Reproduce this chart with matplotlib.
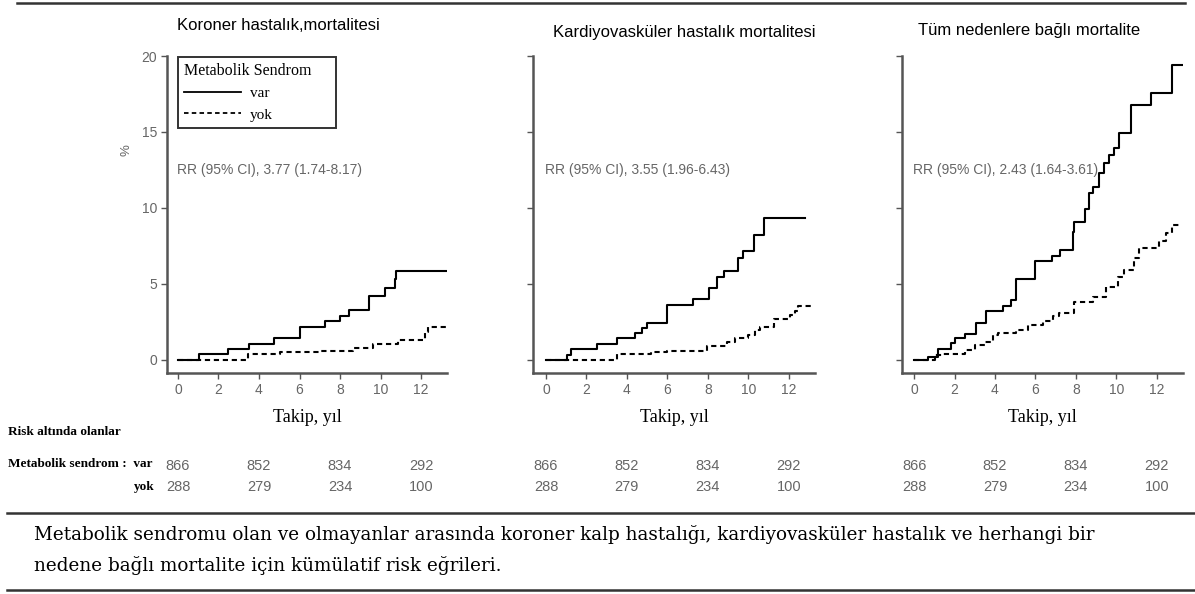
import matplotlib
matplotlib.use('agg')
import matplotlib.pyplot as plt
from matplotlib import transforms
from matplotlib.lines import Line2D
import numpy as np

# ---- data ----
panel_titles = [
    "Koroner hastalık,mortalitesi",
    "Kardiyovasküler hastalık mortalitesi",
    "Tüm nedenlere bağlı mortalite",
]
rr_texts = [
    "RR (95% CI), 3.77 (1.74-8.17)",
    "RR (95% CI), 3.55 (1.96-6.43)",
    "RR (95% CI), 2.43 (1.64-3.61)",
]

chd_var_t = [0, 1.04, 2.47, 3.49, 4.74, 6.01, 7.25, 8.02, 8.43, 9.44, 10.21, 10.70, 10.76, 13.26]
chd_var_y = [0, 0.37, 0.70, 1.05, 1.43, 2.19, 2.54, 2.92, 3.29, 4.21, 4.71, 5.30, 5.86, 5.86]
chd_yok_t = [0, 3.46, 5.02, 7.08, 8.65, 9.64, 10.87, 12.19, 12.35, 13.26]
chd_yok_y = [0, 0.39, 0.53, 0.61, 0.77, 1.03, 1.32, 1.86, 2.19, 2.19]

cvd_var_t = [0, 1.02, 1.22, 2.51, 3.53, 4.41, 4.74, 4.98, 5.97, 7.25, 8.04, 8.45, 8.81,
             9.47, 9.74, 10.26, 10.79, 12.79]
cvd_var_y = [0, 0.33, 0.70, 1.05, 1.43, 1.75, 2.08, 2.46, 3.62, 4.01, 4.76, 5.48, 5.88,
             6.71, 7.17, 8.22, 9.32, 9.32]
cvd_yok_t = [0, 3.5, 5.2, 5.97, 7.96, 8.94, 9.36, 10.0, 10.35, 10.6, 11.25, 12.08, 12.33,
             12.46, 13.2]
cvd_yok_y = [0, 0.39, 0.55, 0.61, 0.94, 1.20, 1.43, 1.64, 1.97, 2.15, 2.68, 2.96, 3.2,
             3.55, 3.55]

all_var_t = [0, 0.7, 1.18, 1.84, 2.04, 2.5, 3.04, 3.54, 4.39, 4.8, 5.05, 5.99, 6.81, 7.24,
             7.85, 7.9, 8.45, 8.67, 8.83, 9.13, 9.41, 9.65, 9.9, 10.15, 10.72, 11.71,
             12.78, 13.27]
all_var_y = [0, 0.22, 0.73, 1.10, 1.47, 1.71, 2.46, 3.19, 3.56, 3.96, 5.34, 6.48, 6.86, 7.21,
             8.4, 9.1, 9.9, 10.96, 11.4, 12.28, 12.93, 13.49, 13.93, 14.91, 16.78, 17.59,
             19.41, 19.41]
all_yok_t = [0, 1.02, 1.43, 2.5, 2.99, 3.49, 3.9, 4.14, 5.05, 5.62, 6.36, 6.86, 7.19, 7.93,
             8.83, 9.49, 10.07, 10.39, 10.89, 11.13, 12.12, 12.45, 12.78, 13.27]
all_yok_y = [0, 0.33, 0.40, 0.66, 0.99, 1.21, 1.65, 1.76, 1.98, 2.31, 2.53, 2.86, 3.08, 3.78,
             4.13, 4.79, 5.49, 5.93, 6.70, 7.36, 7.80, 8.35, 8.90, 8.90]

risk_times = [0, 4, 8, 12]
risk_var = [866, 852, 834, 292]
risk_yok = [288, 279, 234, 100]

caption = ("Metabolik sendromu olan ve olmayanlar arasında koroner kalp hastalığı, "
           "kardiyovasküler hastalık ve herhangi bir\n"
           "nedene bağlı mortalite için kümülatif risk eğrileri.")

W, H = 1195, 594
SANS = "Liberation Sans"
SERIF = "Liberation Serif"
GRAY = "#666666"
SPINE = "#555555"


def fx(px):
    return px / W


def fy(py):
    return 1 - py / H


fig = plt.figure(figsize=(W / 100, H / 100), dpi=100)

# panel boxes in pixels: left, right ; xlim
panels = [
    (167, 447, (-0.54, 13.28)),
    (533, 815, (-0.64, 13.30)),
    (902, 1183, (-0.60, 13.30)),
]
title_pos = [(177, 25), (553, 32), (918, 30)]
curves = [
    (chd_var_t, chd_var_y, chd_yok_t, chd_yok_y),
    (cvd_var_t, cvd_var_y, cvd_yok_t, cvd_yok_y),
    (all_var_t, all_var_y, all_yok_t, all_yok_y),
]
top_px, bottom_px = 56, 373

for i, (left, right, xl) in enumerate(panels):
    ax = fig.add_axes([fx(left), fy(bottom_px), (right - left) / W,
                       (bottom_px - top_px) / H])
    vt, vy, nt, ny = curves[i]
    ax.plot(vt, vy, drawstyle='steps-post', color='black', lw=1.5)
    ax.plot(nt, ny, drawstyle='steps-post', color='black', lw=1.5,
            dashes=(2.5, 1.8))
    ax.set_xlim(*xl)
    ax.set_ylim(-0.86, 20)
    for s in ['top', 'right']:
        ax.spines[s].set_visible(False)
    for s in ['left', 'bottom']:
        ax.spines[s].set_color(SPINE)
        ax.spines[s].set_linewidth(1.8)
    ax.set_xticks(np.arange(0, 13, 2))
    ax.set_yticks(np.arange(0, 21, 5))
    ax.tick_params(length=4, width=1, color=SPINE, labelcolor=GRAY,
                   labelsize=10, pad=3)
    for lab in ax.get_xticklabels() + ax.get_yticklabels():
        lab.set_fontfamily(SANS)
    if i > 0:
        ax.set_yticklabels([])
    ax.text(-0.05, 12.5, rr_texts[i], color=GRAY, fontsize=10,
            family=SANS, va='center', ha='left')
    fig.text(fx(title_pos[i][0]), fy(title_pos[i][1]), panel_titles[i],
             fontsize=12, family=SANS, va='center', ha='left')
    fig.text(fx((left + right) / 2), fy(418), "Takip, yıl", fontsize=13,
             family=SERIF, va='center', ha='center')

    trans = transforms.blended_transform_factory(ax.transData, fig.transFigure)
    for t, a, b in zip(risk_times, risk_var, risk_yok):
        ax.text(t, fy(466), str(a), transform=trans, ha='center', va='center',
                fontsize=10.5, color=GRAY, family=SANS, clip_on=False)
        ax.text(t, fy(487), str(b), transform=trans, ha='center', va='center',
                fontsize=10.5, color=GRAY, family=SANS, clip_on=False)

    if i == 0:
        ax.text(-2.55, 13.8, "%", rotation=90, color=GRAY, fontsize=9.5,
                family=SANS, ha='center', va='center')
        handles = [Line2D([], [], color='black', lw=1.3),
                   Line2D([], [], color='black', lw=1.3, dashes=(2.5, 1.8))]
        leg = ax.legend(handles, ["var", "yok"], title="Metabolik Sendrom",
                        loc='upper left', bbox_to_anchor=(0.039, 0.0, 0.564, 0.997),
                        mode='expand', borderaxespad=0, fancybox=False,
                        handlelength=3.7, handletextpad=0.6, labelspacing=0.5,
                        borderpad=0.4, prop={'family': SERIF, 'size': 11})
        leg.get_title().set_fontfamily(SERIF)
        leg.get_title().set_fontsize(11.5)
        leg._legend_box.align = "left"
        leg.get_frame().set_edgecolor('black')
        leg.get_frame().set_linewidth(1.4)

# risk table labels
fig.text(fx(8), fy(432), "Risk altında olanlar", fontsize=9.5, family=SERIF,
         fontweight='bold', va='center', ha='left')
fig.text(fx(8), fy(464), "Metabolik sendrom :  var", fontsize=9.5, family=SERIF,
         fontweight='bold', va='center', ha='left')
fig.text(fx(155), fy(487), "yok", fontsize=9.5, family=SERIF,
         fontweight='bold', va='center', ha='right')

# rules and caption
fig.add_artist(Line2D([fx(17), fx(1185)], [fy(3), fy(3)], color='#333333', lw=1.8))
fig.add_artist(Line2D([fx(7), fx(1195)], [fy(513), fy(513)], color='#333333', lw=1.8))
fig.add_artist(Line2D([fx(7), fx(1195)], [fy(590), fy(590)], color='#333333', lw=1.8))
fig.text(fx(34), fy(550), caption, fontsize=13.2, family="DejaVu Serif",
         va='center', ha='left', linespacing=1.75)

fig.savefig("out.png", dpi=100)
